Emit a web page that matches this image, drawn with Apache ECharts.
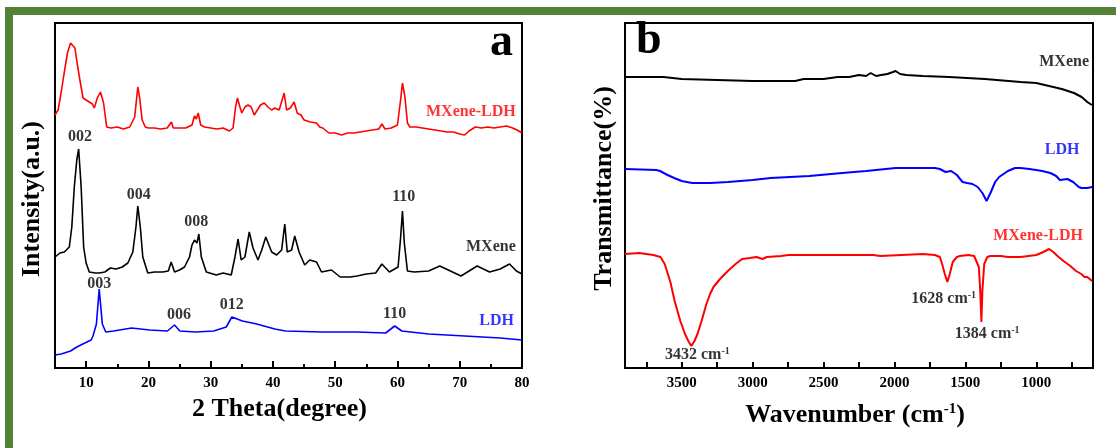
<!DOCTYPE html>
<html>
<head>
<meta charset="utf-8">
<script src="https://cdn.jsdelivr.net/npm/echarts@6/dist/echarts.min.js"></script>
<style>
  html, body { margin: 0; padding: 0; background: #fff; }
  #chart { width: 1116px; height: 448px; }
</style>
</head>
<body>
<div id="chart"></div>
<script>
// (a) XRD, 2 theta in degrees vs intensity (a.u., offset traces)
const xrdMxeneLdh = [
  [5,253],[5.5,258],[6,276],[6.5,296],[7,315],[7.5,325],[7.8,326],[8.2,320],[8.6,303],[9,288],
  [9.5,270],[10,268],[10.5,266],[11,264],[11.3,260],[11.8,270],[12.3,276],[12.8,265],[13.3,241],
  [14,240],[15,241],[16,239],[17,241],[17.8,251],[18.3,281],[18.6,270],[19,248],[19.5,241],
  [20,240],[21,240],[22,239],[23,240],[23.7,246],[24,240],[25,240],[26,240],[27,243],[27.4,252],
  [27.7,249],[28,255],[28.4,243],[29,241],[30,240],[31,239],[32,240],[33,237],[33.6,240],
  [34,261],[34.3,270],[34.7,261],[35,255],[35.5,261],[36,263],[36.5,261],[37,253],[37.5,258],
  [38,263],[38.6,265],[39.2,261],[39.8,258],[40.3,260],[41,258],[41.8,275],[42.2,258],[42.8,260],
  [43.4,266],[43.9,255],[44.5,253],[45,248],[46,246],[47,245],[47.5,241],[48,240],[49,235],
  [50,235],[51,233],[52,235],[53,235],[54,236],[55,237],[56,238],[57,239],[57.5,244],[58,239],
  [59,240],[60,243],[60.5,268],[60.8,285],[61.2,271],[61.6,245],[62,241],[63,241],[64,240],
  [65,239],[66,238],[67,237],[68,236],[69,236],[70,234],[70.8,233],[71.5,237],[72.5,241],
  [73.5,240],[74.5,241],[75.5,240],[76.5,241],[77.5,242],[78.5,240],[79.2,238],[80,235]
];
const xrdMxene = [
  [5,111],[5.8,115],[6.5,116],[7.3,121],[7.7,141],[8.1,181],[8.5,208],[8.8,219],[9.2,181],
  [9.6,121],[10,105],[10.5,96],[11.5,95],[12.1,95],[13,96],[13.9,100],[14.8,99],[15.8,101],
  [16.7,105],[17.5,116],[18,141],[18.3,162],[18.7,141],[19.1,111],[19.9,95],[21,96],[22.3,96],
  [23.2,97],[23.66,106],[24.2,96],[25,98],[25.8,101],[26.6,111],[27,123],[27.4,128],[27.8,125],
  [28.1,134],[28.5,111],[29.3,96],[30.9,93],[32,95],[33.3,93],[33.9,111],[34.4,129],[34.9,108],
  [35.5,111],[36.2,136],[36.8,120],[37.6,108],[38.2,118],[38.85,131],[39.8,116],[40.6,113],
  [41.4,118],[41.9,144],[42.3,116],[43,118],[43.5,132],[44.2,116],[45.1,103],[45.9,108],
  [47,106],[47.8,96],[49.4,98],[50.8,91],[52.4,91],[53.5,92],[55,94],[56.5,95],[57.5,104],
  [58.7,96],[60.1,101],[60.5,130],[60.8,157],[61.1,125],[61.6,97],[62.7,96],[65,97],[66.8,102],
  [68.5,97],[70.2,92],[72.8,102],[74.8,96],[76.5,99],[78,104],[79.1,97],[80,94]
];
const xrdLdh = [
  [5,13],[6,14],[7.5,17],[8.5,21],[9.8,25],[10.8,28],[11.1,32],[11.65,44],[12.1,79],[12.6,44],
  [13.15,36],[14.4,37],[17.3,40],[20.2,38],[23.05,37],[24.2,43],[25.05,37],[27.6,36],[30.5,37],
  [32.5,41],[33.4,51],[35.1,47],[37.4,44],[40.3,39],[42,37],[47.8,36],[53.5,36],[58.1,35],
  [59.55,42],[60.7,37],[65,34],[70.8,32],[76.5,30],[80,28]
];
const xrdTickLabels = [10, 20, 30, 40, 50, 60, 70, 80];
// peak indices [text, 2theta, intensity]
const xrdBlackNotes = [['002', 9.0, 231], ['004', 18.45, 173], ['008', 27.7, 146], ['110', 61.0, 171]];
const xrdBlueNotes = [['003', 12.1, 84], ['006', 24.9, 53], ['012', 33.4, 63], ['110', 59.55, 54]];

// (b) FTIR, wavenumber in cm-1 vs transmittance (offset traces)
const ftirMxene = [
  [3900,291],[3629,291],[3500,289],[3251,288],[3000,287],[2873,287],[2700,287],[2640,289],
  [2500,289],[2400,291],[2319,291],[2250,293],[2200,292],[2168,295],[2130,292],[2093,293],
  [2050,294],[2010,296],[1992,297],[1960,294],[1917,293],[1800,292],[1615,291],[1363,289],
  [1111,286],[1000,285],[910,282],[820,279],[734,275],[680,271],[640,266],[608,263]
];
const ftirLdh = [
  [3900,199],[3679,198],[3653,197],[3600,193],[3553,190],[3500,187],[3427,185],[3300,185],
  [3175,186],[3000,188],[2873,190],[2600,192],[2369,195],[2200,197],[1992,200],[1850,200],
  [1715,200],[1680,199],[1640,196],[1600,197],[1560,193],[1520,186],[1488,185],[1450,184],
  [1413,181],[1380,175],[1350,167],[1320,176],[1290,186],[1262,191],[1200,197],[1150,200],
  [1110,200],[1050,199],[1000,198],[959,197],[900,195],[860,192],[834,188],[820,190],
  [780,189],[740,186],[700,181],[682,180],[640,180],[607,181]
];
const ftirMxeneLdh = [
  [3900,114],[3800,115],[3700,113],[3650,111],[3620,104],[3580,86],[3550,67],[3510,47],
  [3477,34],[3450,26],[3432,22],[3410,27],[3389,34],[3360,47],[3326,64],[3300,74],[3276,81],
  [3230,89],[3175,97],[3120,104],[3074,109],[3020,110],[2973,111],[2930,109],[2900,111],
  [2800,112],[2747,113],[2500,113],[2150,113],[2100,112],[1950,113],[1800,114],[1715,113],
  [1680,111],[1664,104],[1645,94],[1627,86],[1610,94],[1589,106],[1560,111],[1538,112],
  [1480,113],[1438,112],[1405,101],[1395,77],[1387,46],[1380,77],[1367,104],[1345,111],
  [1324,112],[1250,112],[1200,111],[1110,111],[1000,113],[950,116],[909,119],[880,116],
  [850,112],[808,107],[760,102],[720,97],[682,94],[660,91],[640,91],[632,89],[607,87]
];
const ftirTickLabels = [1000, 1500, 2000, 2500, 3000, 3500];
const ftirBandNotes = [['1628', 1653, 69], ['1384', 1346, 34], ['3432', 3390, 13]];

const serif = "'Liberation Serif', 'Times New Roman', serif";
const green = '#548235';

const chart = echarts.init(document.getElementById('chart'));

function noteSeries(xi, yi, data, color, align, rich) {
  return {
    type: 'scatter',
    xAxisIndex: xi,
    yAxisIndex: yi,
    symbolSize: 1,
    silent: true,
    itemStyle: { color: 'transparent' },
    data: data,
    label: {
      show: true,
      position: 'inside',
      align: align,
      verticalAlign: 'middle',
      color: color,
      fontFamily: serif,
      fontWeight: 'bold',
      fontSize: 16,
      formatter: rich ? p => '{n|' + p.name + ' cm}{s|-1}' : '{b}',
      rich: rich ? {
        n: { fontFamily: serif, fontWeight: 'bold', fontSize: 16, color: color },
        s: { fontFamily: serif, fontWeight: 'bold', fontSize: 10, color: color, verticalAlign: 'top', padding: [0, 0, 8, 0] }
      } : undefined
    }
  };
}

function lineSeries(xi, yi, data, color, width) {
  return {
    type: 'line',
    xAxisIndex: xi,
    yAxisIndex: yi,
    data: data,
    symbol: 'none',
    silent: true,
    lineStyle: { color: color, width: width },
    z: 3
  };
}

const tickLabelStyle = {
  fontFamily: serif, fontWeight: 'bold', fontSize: 15, color: '#000', margin: 8,
  formatter: v => String(v)
};
const titleStyle = { fontFamily: serif, fontWeight: 'bold', fontSize: 26, color: '#000' };

chart.setOption({
  animation: false,
  backgroundColor: '#fff',
  graphic: [
    { type: 'rect', shape: { x: 5, y: 7, width: 1111, height: 8 }, style: { fill: green } },
    { type: 'rect', shape: { x: 5, y: 7, width: 8, height: 441 }, style: { fill: green } },
    { type: 'text', left: 490, top: 20, style: { text: 'a', font: 'bold 46px ' + serif, fill: '#000' } },
    { type: 'text', left: 636, top: 18, style: { text: 'b', font: 'bold 46px ' + serif, fill: '#000' } }
  ],
  grid: [
    { left: 55, top: 23, width: 467, height: 345, show: true, borderColor: '#000', borderWidth: 2, backgroundColor: 'transparent' },
    { left: 625, top: 23, width: 468, height: 345, show: true, borderColor: '#000', borderWidth: 2, backgroundColor: 'transparent' }
  ],
  xAxis: [
    {
      gridIndex: 0, type: 'value', min: 5, max: 80, splitNumber: 8,
      name: '2 Theta(degree)', nameLocation: 'middle', nameGap: 28,
      nameTextStyle: Object.assign({ padding: [0, 18, 0, 0] }, titleStyle),
      axisLine: { lineStyle: { color: '#000', width: 2 } },
      axisTick: { inside: true, length: 7, lineStyle: { color: '#000', width: 2 } },
      minorTick: { show: true, splitNumber: 2, length: 4, lineStyle: { color: '#000', width: 2 } },
      axisLabel: Object.assign({ customValues: xrdTickLabels }, tickLabelStyle),
      splitLine: { show: false },
      minorSplitLine: { show: false }
    },
    {
      gridIndex: 1, type: 'value', min: 600, max: 3900, inverse: true, splitNumber: 6,
      name: '{t|Wavenumber (cm}{s|-1}{t|)}', nameLocation: 'middle', nameGap: 34,
      nameTextStyle: {
        padding: [0, 8, 0, 0],
        rich: {
          t: titleStyle,
          s: { fontFamily: serif, fontWeight: 'bold', fontSize: 15, color: '#000', verticalAlign: 'top', padding: [0, 0, 12, 0] }
        }
      },
      axisLine: { lineStyle: { color: '#000', width: 2 } },
      axisTick: { inside: true, length: 6, lineStyle: { color: '#000', width: 2 } },
      minorTick: { show: true, splitNumber: 2, length: 6, lineStyle: { color: '#000', width: 2 } },
      axisLabel: Object.assign({ customValues: ftirTickLabels }, tickLabelStyle),
      splitLine: { show: false },
      minorSplitLine: { show: false }
    }
  ],
  yAxis: [
    {
      gridIndex: 0, type: 'value', min: 0, max: 345,
      name: 'Intensity(a.u.)', nameLocation: 'middle', nameGap: 10,
      nameTextStyle: Object.assign({ padding: [0, 7, 0, 0] }, titleStyle),
      axisLine: { lineStyle: { color: '#000', width: 2 } },
      axisTick: { show: false }, axisLabel: { show: false }, splitLine: { show: false }
    },
    {
      gridIndex: 1, type: 'value', min: 0, max: 345,
      name: 'Transmittance(%)', nameLocation: 'middle', nameGap: 8,
      nameTextStyle: Object.assign({ padding: [0, 0, 0, 14] }, titleStyle),
      axisLine: { lineStyle: { color: '#000', width: 2 } },
      axisTick: { show: false }, axisLabel: { show: false }, splitLine: { show: false }
    }
  ],
  series: [
    lineSeries(0, 0, xrdMxeneLdh, '#ff0000', 1.6),
    lineSeries(0, 0, xrdMxene, '#000000', 1.6),
    lineSeries(0, 0, xrdLdh, '#0000ff', 1.6),
    noteSeries(0, 0, xrdBlackNotes.map(d => ({ name: d[0], value: [d[1], d[2]] })), '#000', 'center'),
    noteSeries(0, 0, xrdBlueNotes.map(d => ({ name: d[0], value: [d[1], d[2]] })), '#000', 'center'),
    noteSeries(0, 0, [
      { name: 'MXene-LDH', value: [79.0, 256], label: { color: '#ff0000' } },
      { name: 'MXene', value: [79.0, 121], label: { color: '#000' } },
      { name: 'LDH', value: [78.7, 47], label: { color: '#0000ff' } }
    ], '#000', 'right'),
    lineSeries(1, 1, ftirMxene, '#000000', 2),
    lineSeries(1, 1, ftirLdh, '#0000ff', 2),
    lineSeries(1, 1, ftirMxeneLdh, '#ff0000', 2),
    noteSeries(1, 1, [
      { name: 'MXene', value: [628, 306], label: { color: '#000' } },
      { name: 'LDH', value: [696, 218], label: { color: '#0000ff' } },
      { name: 'MXene-LDH', value: [671, 132], label: { color: '#ff0000' } }
    ], '#000', 'right'),
    noteSeries(1, 1, ftirBandNotes.map(d => ({ name: d[0], value: [d[1], d[2]] })), '#000', 'center', true)
  ]
});
</script>
</body>
</html>
